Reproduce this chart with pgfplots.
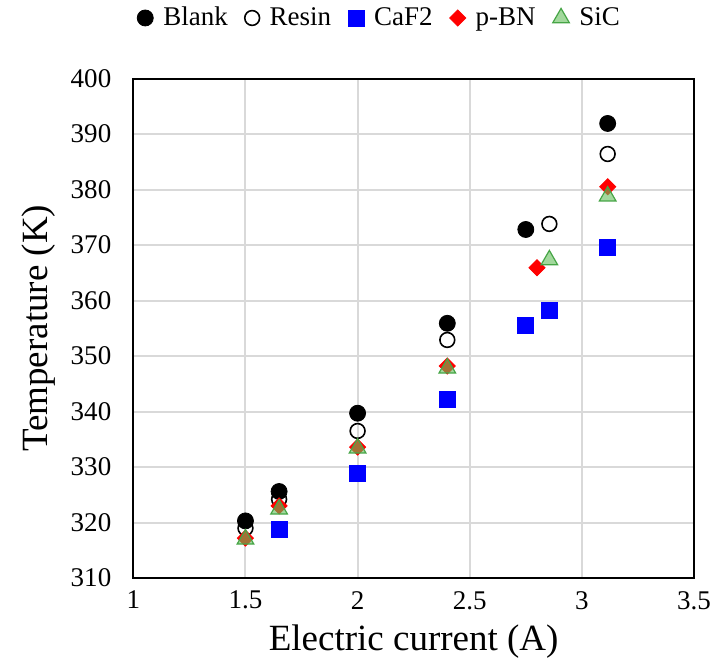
\documentclass[border=0pt]{standalone}
\usepackage{fontspec}
\setmainfont{Liberation Serif}
\newfontfamily\tnr{Liberation Serif}
\usepackage{pgfplots}
\pgfplotsset{compat=1.18}
\definecolor{gridc}{RGB}{217,217,217}
\definecolor{sicfill}{RGB}{100,190,90}
\definecolor{sicdraw}{RGB}{70,165,70}
\begin{document}
\begin{tikzpicture}
\begin{axis}[name=ax, scale only axis, width=280.3pt, height=249.75pt,
 xmin=1,xmax=3.5,ymin=310,ymax=400,
 xtick={1,1.5,2,2.5,3,3.5}, ytick={310,320,...,400},
 xticklabels={1,1.5,2,2.5,3,3.5},
 yticklabels={310,320,330,340,350,360,370,380,390,400},
 grid=major, major grid style={draw=gridc, line width=1pt},
 axis line style={black, line width=1pt},
 major tick length=0pt,
 tick label style={font=\tnr\fontsize{13.5}{16}\selectfont},
 xticklabel style={yshift=-3pt},
 yticklabel style={xshift=-7.5pt},
 xlabel={Electric current (A)},
 xlabel style={font=\fontsize{18.5}{22}\selectfont, at={(axis description cs:0.5,0)}, anchor=base, yshift=-36pt},
 ylabel={Temperature (K)},
 ylabel style={font=\fontsize{18.5}{22}\selectfont, at={(axis description cs:-0.1534,0.5)}, anchor=base},
 legend style={at={(axis description cs:0.441,1)}, anchor=center, yshift=30.25pt, draw=none, fill=none,
   font=\fontsize{13.5}{16}\selectfont, /tikz/every even column/.append style={column sep=6.5pt},
   /tikz/every odd column/.append style={column sep=3pt}},
 legend columns=5,
]
\addplot[only marks, mark=*, mark size=4pt, black] coordinates {
(1.5,320.3) (1.65,325.6) (2.0,339.7) (2.4,355.9) (2.75,372.8) (3.115,391.9)};
\addplot[only marks, mark=o, mark size=3.7pt, black, mark options={line width=0.8pt}] coordinates {
(1.5,319.0) (1.65,324.2) (2.0,336.5) (2.4,352.9) (2.855,373.8) (3.115,386.4)};
\addplot[only marks, mark=square*, mark size=4pt, blue, mark options={fill=blue, draw=blue}] coordinates {
(1.65,318.8) (2.0,328.9) (2.4,342.2) (2.75,355.5) (2.855,358.3) (3.115,369.6)};
\addplot[only marks, mark=square*, mark size=2.85pt, red, mark options={rotate=45, fill=red, draw=red}] coordinates {
(1.5,317.2) (1.65,323.0) (2.0,333.6) (2.4,348.2) (2.80,365.9) (3.115,380.5)};
\addplot[only marks, mark=triangle*, mark size=4.8pt, sicdraw, mark options={draw=sicdraw, fill=sicfill, fill opacity=0.6, line width=0.6pt}] coordinates {
(1.5,317.0) (1.65,322.4) (2.0,333.4) (2.4,347.8) (2.855,367.3) (3.115,378.8)};
\legend{Blank,Resin,CaF2,p-BN,SiC}
\end{axis}
\pgfresetboundingbox
\path ([xshift=-66.65pt,yshift=-46.5pt]ax.south west) rectangle ([xshift=9.5pt,yshift=39.25pt]ax.north east);
\end{tikzpicture}
\end{document}
